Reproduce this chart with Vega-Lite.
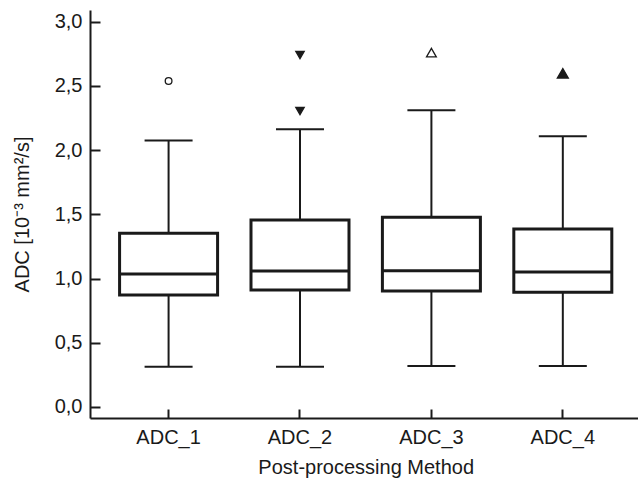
{
  "$schema": "https://vega.github.io/schema/vega-lite/v6.json",
  "width": 548,
  "height": 408,
  "autosize": {"type": "none"},
  "padding": {"left": 90, "top": 10, "right": 0, "bottom": 62},
  "background": "white",
  "config": {
    "view": {"stroke": null},
    "font": "Liberation Sans",
    "axis": {
      "domainColor": "#1a1a1a",
      "domainWidth": 2,
      "tickColor": "#1a1a1a",
      "tickWidth": 2,
      "labelColor": "#1a1a1a",
      "titleColor": "#1a1a1a",
      "labelFontSize": 20,
      "titleFontSize": 20,
      "titleFontWeight": "normal",
      "grid": false
    }
  },
  "datasets": {
    "boxes": [
      {"method": "ADC_1", "lower": 0.314, "q1": 0.872, "median": 1.036, "q3": 1.352, "upper": 2.074},
      {"method": "ADC_2", "lower": 0.314, "q1": 0.911, "median": 1.059, "q3": 1.456, "upper": 2.162},
      {"method": "ADC_3", "lower": 0.319, "q1": 0.903, "median": 1.061, "q3": 1.477, "upper": 2.310},
      {"method": "ADC_4", "lower": 0.319, "q1": 0.893, "median": 1.051, "q3": 1.386, "upper": 2.108}
    ],
    "outliers": [
      {"method": "ADC_1", "value": 2.538},
      {"method": "ADC_2", "value": 2.741},
      {"method": "ADC_2", "value": 2.305},
      {"method": "ADC_3", "value": 2.759},
      {"method": "ADC_4", "value": 2.598}
    ]
  },
  "encoding": {
    "x": {
      "field": "method",
      "type": "nominal",
      "scale": {"type": "band", "domain": ["ADC_1", "ADC_2", "ADC_3", "ADC_4"], "range": [0, 551.4], "paddingInner": 0, "paddingOuter": 0.098},
      "axis": {"title": "Post-processing Method", "labelAngle": 0, "tickSize": -9, "labelPadding": 18, "titlePadding": 10}
    }
  },
  "layer": [
    {
      "data": {"name": "boxes"},
      "mark": {"type": "rule", "color": "#1a1a1a", "strokeWidth": 2},
      "encoding": {
        "y": {
          "field": "lower",
          "type": "quantitative",
          "scale": {"domain": [-0.0857, 3.091], "nice": false, "zero": false},
          "axis": {
            "title": "ADC [10⁻³ mm²/s]",
            "values": [0, 0.5, 1, 1.5, 2, 2.5, 3],
            "labelExpr": "replace(format(datum.value, '.1f'), '.', ',')",
            "tickSize": -10,
            "labelPadding": 18,
            "titlePadding": 22
          }
        },
        "y2": {"field": "upper"}
      }
    },
    {
      "data": {"name": "boxes"},
      "mark": {"type": "tick", "color": "#1a1a1a", "opacity": 1, "size": 48, "thickness": 2},
      "encoding": {"y": {"field": "lower", "type": "quantitative"}}
    },
    {
      "data": {"name": "boxes"},
      "mark": {"type": "tick", "color": "#1a1a1a", "opacity": 1, "size": 48, "thickness": 2},
      "encoding": {"y": {"field": "upper", "type": "quantitative"}}
    },
    {
      "data": {"name": "boxes"},
      "mark": {"type": "bar", "size": 98, "fill": "white", "stroke": "#1a1a1a", "strokeWidth": 3, "opacity": 1},
      "encoding": {"y": {"field": "q1", "type": "quantitative"}, "y2": {"field": "q3"}}
    },
    {
      "data": {"name": "boxes"},
      "mark": {"type": "tick", "color": "#1a1a1a", "opacity": 1, "size": 98, "thickness": 3},
      "encoding": {"y": {"field": "median", "type": "quantitative"}}
    },
    {
      "data": {"name": "outliers"},
      "mark": {"type": "point", "stroke": "#1a1a1a", "strokeWidth": 1.3, "opacity": 1, "filled": false},
      "encoding": {
        "y": {"field": "value", "type": "quantitative"},
        "shape": {"field": "method", "type": "nominal", "scale": {"domain": ["ADC_1", "ADC_2", "ADC_3", "ADC_4"], "range": ["circle", "triangle-down", "triangle-up", "triangle-up"]}, "legend": null},
        "fill": {"field": "method", "type": "nominal", "scale": {"domain": ["ADC_1", "ADC_2", "ADC_3", "ADC_4"], "range": ["white", "#1a1a1a", "white", "#1a1a1a"]}, "legend": null},
        "size": {"field": "method", "type": "nominal", "scale": {"domain": ["ADC_1", "ADC_2", "ADC_3", "ADC_4"], "range": [45, 121, 110, 121]}, "legend": null}
      }
    }
  ]
}
